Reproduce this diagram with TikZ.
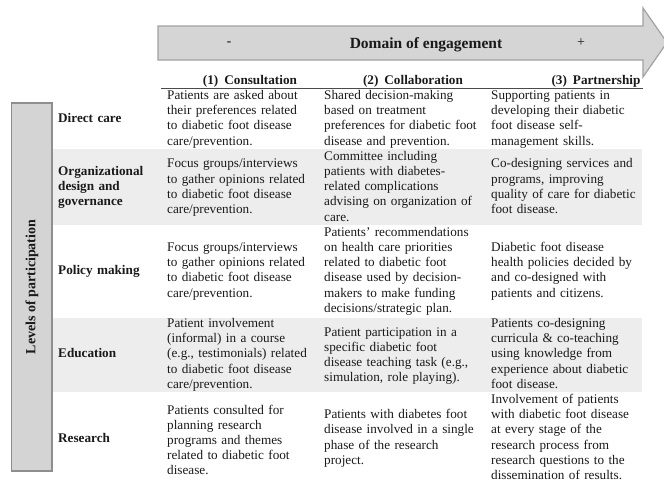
\documentclass[tikz,border=0pt]{standalone}
\usepackage{fontspec}
\setmainfont{Liberation Serif}
\definecolor{rowgrey}{HTML}{EDEDED}
\definecolor{boxfill}{HTML}{D4D4D4}
\definecolor{boxline}{HTML}{8E8E8E}
\definecolor{arrowfill}{HTML}{D5D5D5}
\definecolor{arrowline}{HTML}{A2A2A2}
\definecolor{ink}{HTML}{1A1A1A}
\definecolor{rulecol}{HTML}{4A4A4A}
\begin{document}
\begin{tikzpicture}[x=1pt,y=-1pt,
  cell/.style={anchor=base west, inner sep=0pt, text width=175pt, align=left,
    text=ink, font=\fontsize{13.2}{15.2}\selectfont},
  lbl/.style={cell, text width=100pt, font=\bfseries\fontsize{13.2}{15.2}\selectfont},
  hdr/.style={anchor=base, inner sep=0pt, text=ink, font=\bfseries\fontsize{13.2}{15.2}\selectfont},
  greyrow/.style={fill=rowgrey},
  sidebox/.style={draw=boxline, fill=boxfill, line width=1.2pt},
  bigarrow/.style={draw=arrowline, fill=arrowfill, line width=1.2pt, line join=miter},
  hdrrule/.style={draw=rulecol, line width=0.8pt}
]
\useasboundingbox (0,0) rectangle (664,482);
\fill[white] (0,0) rectangle (664,482);

% grey rows
\fill[greyrow] (53,149) rectangle (642,224.5);
\fill[greyrow] (53,317.5) rectangle (642,392);

% left box
\draw[sidebox] (11.5,103) rectangle (52,471);
\node[rotate=90, inner sep=0pt, text=ink, font=\bfseries\fontsize{14}{16}\selectfont] (levels) at (32,287) {Levels of participation};

% arrow
\begin{scope}
\clip (0,0) rectangle (664,482);
\draw[bigarrow] (158,26) -- (643,26) -- (643,8) -- (667,42.5) -- (643,77) -- (643,60) -- (158,60) -- cycle;
\end{scope}
\node[inner sep=0pt, text=ink, font=\bfseries\fontsize{13.2}{15}\selectfont] (minus) at (229,44) {-};
\node[anchor=base, inner sep=0pt, text=ink, font=\bfseries\fontsize{15.5}{18}\selectfont] (domain) at (426,48.5) {Domain of engagement};
\node[inner sep=0pt, text=ink, font=\fontsize{14}{15}\selectfont] (plus) at (581,43) {+};

% headers
\node[hdr] (h1) at (250,84) {(1)\hspace{6pt}Consultation};
\node[hdr] (h2) at (413,84) {(2)\hspace{6pt}Collaboration};
\node[hdr] (h3) at (596,84) {(3)\hspace{6pt}Partnership};
\coordinate (ruleL) at (161,88);
\coordinate (ruleR) at (643,88);
\draw[hdrrule] (ruleL) -- (ruleR);

% row 1
\node[lbl] (l1) at (58,122.3) {Direct care};
\node[cell] (c11) at (167,99.5) {Patients are asked about\\their preferences related\\to diabetic foot disease\\care/prevention.};
\node[cell] (c12) at (324,99.5) {Shared decision-making\\based on treatment\\preferences for diabetic foot\\disease and prevention.};
\node[cell] (c13) at (491,99.5) {Supporting patients in\\developing their diabetic\\foot disease self-\\management skills.};

% row 2
\node[lbl] (l2) at (58,175.5) {Organizational\\design and\\governance};
\node[cell] (c21) at (167,167.9) {Focus groups/interviews\\to gather opinions related\\to diabetic foot disease\\care/prevention.};
\node[cell] (c22) at (324,160.3) {Committee including\\patients with diabetes-\\related complications\\advising on organization of\\care.};
\node[cell] (c23) at (491,167.9) {Co-designing services and\\programs, improving\\quality of care for diabetic\\foot disease.};

% row 3
\node[lbl] (l3) at (58,274.3) {Policy making};
\node[cell] (c31) at (167,251.5) {Focus groups/interviews\\to gather opinions related\\to diabetic foot disease\\care/prevention.};
\node[cell] (c32) at (324,236.3) {Patients’ recommendations\\on health care priorities\\related to diabetic foot\\disease used by decision-\\makers to make funding\\decisions/strategic plan.};
\node[cell] (c33) at (491,251.5) {Diabetic foot disease\\health policies decided by\\and co-designed with\\patients and citizens.};

% row 4
\node[lbl] (l4) at (58,357.9) {Education};
\node[cell] (c41) at (167,327.5) {Patient involvement\\(informal) in a course\\(e.g., testimonials) related\\to diabetic foot disease\\care/prevention.};
\node[cell] (c42) at (324,336) {Patient participation in a\\specific diabetic foot\\disease teaching task (e.g.,\\simulation, role playing).};
\node[cell] (c43) at (491,327.5) {Patients co-designing\\curricula \& co-teaching\\using knowledge from\\experience about diabetic\\foot disease.};

% row 5
\node[lbl] (l5) at (58,442.5) {Research};
\node[cell] (c51) at (167,414) {Patients consulted for\\planning research\\programs and themes\\related to diabetic foot\\disease.};
\node[cell] (c52) at (324,418.7) {Patients with diabetes foot\\disease involved in a single\\phase of the research\\project.};
\node[cell] (c53) at (491,403.5) {Involvement of patients\\with diabetic foot disease\\at every stage of the\\research process from\\research questions to the\\dissemination of results.};
\end{tikzpicture}
\end{document}
